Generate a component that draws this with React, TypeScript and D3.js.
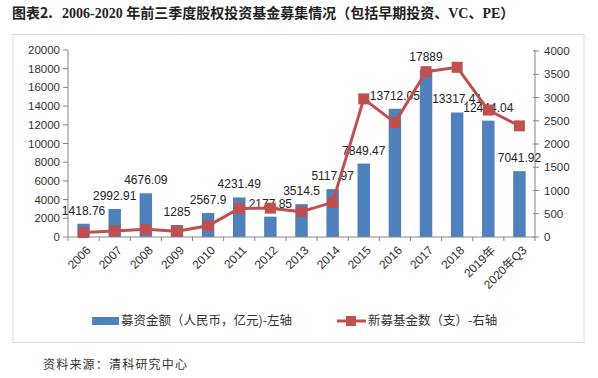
import React from 'react';
import * as d3 from 'd3';

const categories = ['2006', '2007', '2008', '2009', '2010', '2011', '2012', '2013', '2014', '2015', '2016', '2017', '2018', '2019年', '2020年Q3'];
const fundAmount = [1418.76, 2992.91, 4676.09, 1285, 2567.9, 4231.49, 2177.85, 3514.5, 5117.97, 7849.47, 13712.05, 17889, 13317.41, 12444.04, 7041.92];
const fundAmountLabels = ['1418.76', '2992.91', '4676.09', '1285', '2567.9', '4231.49', '2177.85', '3514.5', '5117.97', '7849.47', '13712.05', '17889', '13317.41', '12444.04', '7041.92'];
const fundCount = [95, 130, 165, 125, 240, 615, 620, 545, 745, 2970, 2460, 3555, 3650, 2730, 2390];
const leftTicks = [0, 2000, 4000, 6000, 8000, 10000, 12000, 14000, 16000, 18000, 20000];
const rightTicks = [0, 500, 1000, 1500, 2000, 2500, 3000, 3500, 4000];
const legendBar = '募资金额（人民币，亿元)-左轴';
const legendLine = '新募基金数（支）-右轴';
const titleA = '图表2.';
const titleB = '2006-2020 年前三季度股权投资基金募集情况（包括早期投资、VC、PE）';
const source = '资料来源：清科研究中心';

const W = 598, H = 378;
const L = 68, R = 535, T = 50, B = 237;
const BLUE = '#4F81BD';
const RED = '#C0504D';
const AX = '#868686';
const FONT = '"Liberation Sans", Arial, "Noto Sans CJK SC", sans-serif';
const CJK = '"Noto Sans CJK SC", "Liberation Sans", sans-serif';

export default function App() {
  const x = d3.scaleBand<string>().domain(categories).range([L, R]).paddingInner(0.6).paddingOuter(0.3);
  const x0 = d3.scaleBand<string>().domain(categories).range([L, R]).padding(0);
  const yL = d3.scaleLinear().domain([0, 20000]).range([B, T]);
  const yR = d3.scaleLinear().domain([0, 4000]).range([B, T + 1]);
  const bw = x.bandwidth();
  const cx = (c: string) => (x(c) as number) + bw / 2;
  const line = d3.line<number>().x((_, i) => cx(categories[i])).y(d => yR(d));
  const boundaries = [...categories.map(c => x0(c) as number), R];

  return (
    <svg width={W} height={H} style={{ position: 'absolute', left: 0, top: 0, background: '#fff' }}>
      <rect x={0} y={0} width={W} height={H} fill="#fff" />
      <text x={12} y={18} fontFamily={CJK} fontSize={14} fontWeight="bold" fill="#222">{titleA}</text>
      <text x={62} y={18} fontFamily={'"Liberation Serif", "Noto Sans CJK SC", serif'} fontSize={14} fontWeight="bold" fill="#222">{titleB}</text>
      <rect x={13} y={34.5} width={571} height={308} fill="none" stroke="#d9d9d9" strokeWidth={1} />

      {/* bars */}
      {categories.map((c, i) => (
        <rect key={c} x={x(c)} y={yL(fundAmount[i])} width={bw} height={B - yL(fundAmount[i])} fill={BLUE} />
      ))}

      {/* left axis */}
      <line x1={L} x2={L} y1={T} y2={B} stroke={AX} />
      {leftTicks.map(t => (
        <g key={t}>
          <line x1={L - 5} x2={L} y1={yL(t)} y2={yL(t)} stroke={AX} />
          <text x={L - 8} y={yL(t)} dy="0.35em" textAnchor="end" fontFamily={FONT} fontSize={11.5} fill="#333">{t}</text>
        </g>
      ))}
      {/* right axis */}
      <line x1={R} x2={R} y1={T} y2={B} stroke={AX} />
      {rightTicks.map(t => (
        <g key={t}>
          <line x1={R - 2} x2={R + 4} y1={yR(t)} y2={yR(t)} stroke={AX} />
          <text x={R + 9} y={yR(t)} dy="0.35em" textAnchor="start" fontFamily={FONT} fontSize={11.5} fill="#333">{t}</text>
        </g>
      ))}
      {/* bottom axis */}
      <line x1={L} x2={R} y1={B} y2={B} stroke={AX} />
      {boundaries.map((b, i) => (
        <line key={i} x1={b} x2={b} y1={B} y2={B + 4} stroke={AX} />
      ))}
      {categories.map(c => (
        <text key={c} transform={`translate(${cx(c) + 5},${B + 11}) rotate(-45)`} textAnchor="end" dy="0.35em" fontFamily={FONT} fontSize={12} fill="#333">{c}</text>
      ))}

      {/* data labels */}
      {categories.map((c, i) => (
        <text key={c} x={cx(c)} y={yL(fundAmount[i]) - 9} textAnchor="middle" fontFamily={FONT} fontSize={12} fill="#222">{fundAmountLabels[i]}</text>
      ))}

      {/* line */}
      <path d={line(fundCount) || ''} fill="none" stroke={RED} strokeWidth={3} strokeLinejoin="round" />
      {fundCount.map((v, i) => (
        <rect key={i} x={cx(categories[i]) - 5.5} y={yR(v) - 5.5} width={11} height={11} fill={RED} />
      ))}

      {/* legend */}
      <rect x={92} y={317} width={27} height={8} fill={BLUE} />
      <text x={121} y={321} dy="0.35em" fontFamily={CJK} fontSize={12.5} fill="#333">{legendBar}</text>
      <line x1={337} x2={366} y1={321} y2={321} stroke={RED} strokeWidth={3} />
      <rect x={346} y={316} width={10} height={10} fill={RED} />
      <text x={368} y={321} dy="0.35em" fontFamily={CJK} fontSize={12.5} fill="#333">{legendLine}</text>

      <text x={43} y={365} dy="0.35em" fontFamily={CJK} fontSize={12} letterSpacing={1.2} fill="#333">{source}</text>
    </svg>
  );
}
